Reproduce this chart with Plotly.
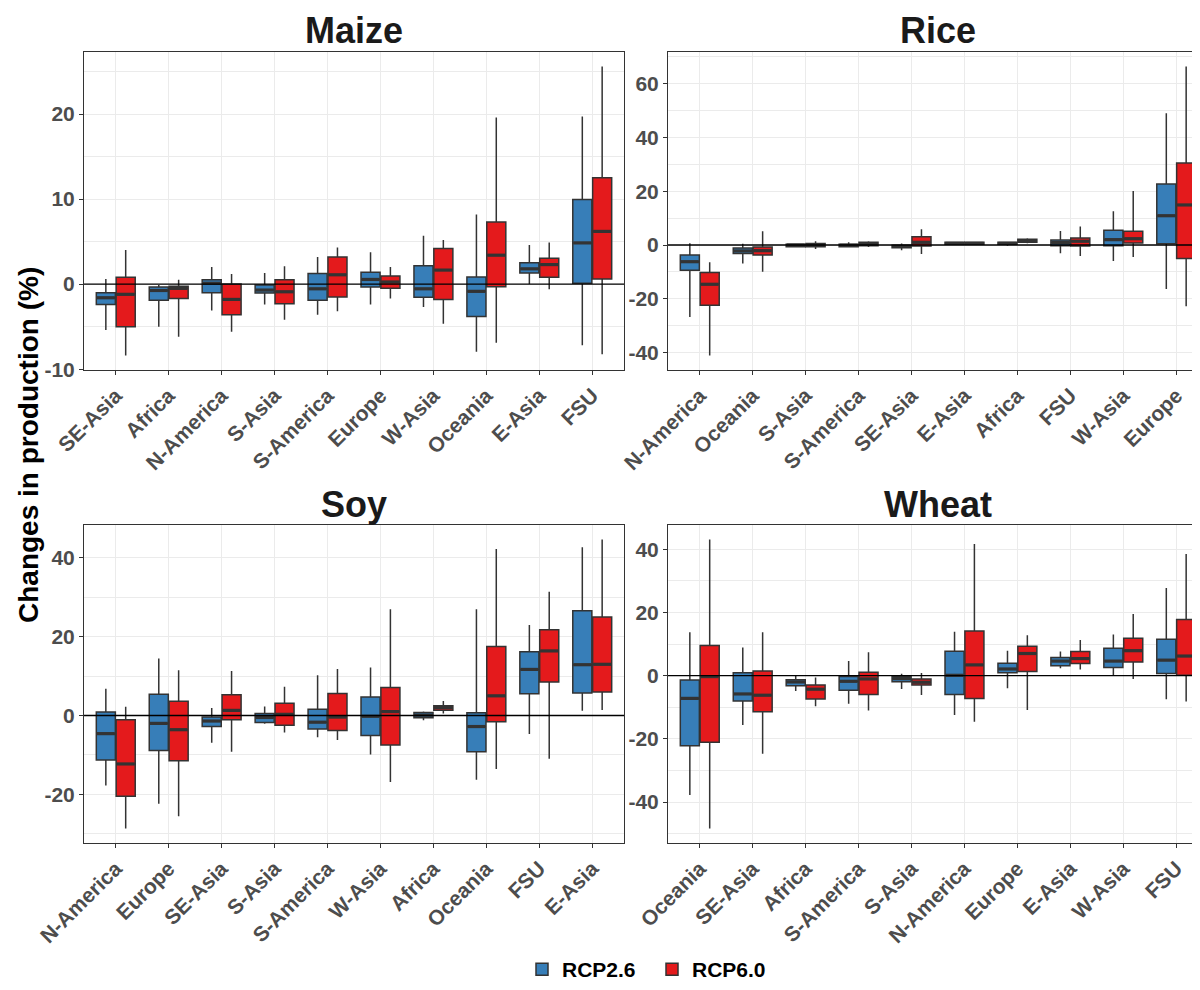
import plotly.graph_objects as go

# ---------------- data ----------------
SCENARIOS = ["RCP2.6", "RCP6.0"]

maize_regions = ["SE-Asia", "Africa", "N-America", "S-Asia", "S-America",
                 "Europe", "W-Asia", "Oceania", "E-Asia", "FSU"]
maize_rcp26 = {
    "low":  [-5.4, -5.0, -3.1, -2.4, -3.6, -2.4, -2.7, -7.95, 0.0, -7.2],
    "q1":   [-2.4, -1.9, -1.0, -1.05, -1.9, -0.35, -1.55, -3.8, 1.3, 0.1],
    "med":  [-1.6, -0.75, 0.1, -0.7, -0.55, 0.55, -0.55, -0.85, 1.8, 4.85],
    "q3":   [-1.0, -0.35, 0.5, -0.1, 1.25, 1.4, 2.15, 0.85, 2.5, 9.95],
    "high": [0.6, -0.1, 2.0, 1.3, 3.2, 3.75, 5.7, 8.2, 4.6, 19.7],
}
maize_rcp60 = {
    "low":  [-8.4, -6.2, -5.6, -4.2, -3.2, -1.7, -4.65, -6.9, -0.6, -8.25],
    "q1":   [-5.0, -1.7, -3.6, -2.3, -1.5, -0.5, -1.8, -0.3, 0.8, 0.6],
    "med":  [-1.2, -0.5, -1.8, -0.9, 1.1, 0.25, 1.65, 3.4, 2.3, 6.2],
    "q3":   [0.8, -0.25, 0.0, 0.5, 3.2, 0.95, 4.2, 7.3, 3.05, 12.5],
    "high": [4.0, 0.5, 1.2, 2.1, 4.3, 2.0, 5.2, 19.6, 4.9, 25.6],
}

rice_regions = ["N-America", "Oceania", "S-Asia", "S-America", "SE-Asia",
                "E-Asia", "Africa", "FSU", "W-Asia", "Europe"]
rice_rcp26 = {
    "low":  [-26.8, -6.9, -0.75, -0.9, -1.9, 0.1, -0.25, -3.1, -5.9, -16.4],
    "q1":   [-9.4, -3.2, -0.6, -0.6, -1.0, 0.25, 0.25, -0.25, -0.25, 0.5],
    "med":  [-6.2, -2.2, 0.0, -0.1, -0.5, 0.6, 0.6, 0.9, 2.0, 10.9],
    "q3":   [-3.7, -1.1, 0.25, 0.25, -0.1, 1.0, 1.0, 1.9, 5.45, 22.7],
    "high": [0.7, 0.5, 0.4, 1.0, 0.6, 1.1, 1.2, 5.2, 12.6, 49.0],
}
rice_rcp60 = {
    "low":  [-41.1, -9.9, -1.5, -0.75, -3.3, 0.1, 0.7, -4.1, -4.5, -22.8],
    "q1":   [-22.4, -3.7, -0.6, -0.25, -0.4, 0.25, 1.0, -0.4, 0.75, -5.0],
    "med":  [-14.6, -2.1, 0.1, 0.5, 1.0, 0.6, 1.6, 1.4, 2.35, 14.9],
    "q3":   [-10.2, -0.7, 0.6, 1.0, 3.1, 1.0, 2.1, 2.6, 5.1, 30.5],
    "high": [-6.4, 5.1, 1.4, 1.4, 5.9, 1.1, 2.5, 6.9, 20.1, 66.4],
}

soy_regions = ["N-America", "Europe", "SE-Asia", "S-Asia", "S-America",
               "W-Asia", "Africa", "Oceania", "FSU", "E-Asia"]
soy_rcp26 = {
    "low":  [-17.8, -22.4, -6.9, -2.1, -5.5, -9.9, -1.2, -16.3, -4.7, 1.2],
    "q1":   [-11.3, -8.9, -2.8, -1.8, -3.4, -5.1, -0.6, -9.2, 5.5, 5.7],
    "med":  [-4.6, -2.0, -1.4, -0.5, -1.7, -0.2, 0.1, -2.8, 11.7, 12.9],
    "q3":   [0.9, 5.4, -0.4, 0.5, 1.6, 4.7, 0.75, 0.7, 16.2, 26.6],
    "high": [6.8, 14.5, 1.9, 2.3, 10.2, 12.2, 1.0, 27.0, 23.0, 42.7],
}
soy_rcp60 = {
    "low":  [-28.7, -25.6, -9.2, -4.3, -6.2, -16.9, 0.5, -13.6, -11.0, 1.4],
    "q1":   [-20.5, -11.5, -1.1, -2.5, -3.8, -7.5, 1.35, -1.6, 8.5, 6.0],
    "med":  [-12.3, -3.6, 1.3, 0.3, -0.4, 1.0, 2.0, 5.0, 16.4, 13.0],
    "q3":   [-1.1, 3.6, 5.25, 3.1, 5.6, 7.1, 2.5, 17.5, 21.8, 25.0],
    "high": [2.2, 11.5, 11.3, 7.3, 11.8, 27.0, 3.7, 42.3, 31.4, 44.7],
}

wheat_regions = ["Oceania", "SE-Asia", "Africa", "S-America", "S-Asia",
                 "N-America", "Europe", "E-Asia", "W-Asia", "FSU"]
wheat_rcp26 = {
    "low":  [-37.8, -15.6, -4.9, -8.9, -4.2, -12.5, -4.0, 2.3, 0.0, -7.5],
    "q1":   [-22.2, -8.0, -3.2, -4.6, -1.9, -6.0, 0.95, 3.1, 2.6, 0.7],
    "med":  [-7.2, -5.8, -2.0, -1.8, -0.95, 0.1, 2.1, 4.6, 4.6, 4.9],
    "q3":   [-1.4, 0.95, -1.3, -0.3, -0.3, 7.7, 3.9, 5.7, 8.7, 11.5],
    "high": [13.7, 8.9, -0.1, 4.6, 0.6, 13.9, 7.9, 7.6, 13.0, 27.7],
}
wheat_rcp60 = {
    "low":  [-48.4, -24.7, -9.7, -11.0, -6.1, -14.6, -10.9, 1.9, -1.1, -8.2],
    "q1":   [-21.1, -11.4, -7.4, -6.0, -3.0, -7.2, 1.3, 3.8, 4.3, 0.1],
    "med":  [-0.3, -6.2, -4.3, -1.05, -2.1, 3.4, 7.0, 5.4, 7.9, 6.2],
    "q3":   [9.5, 1.5, -3.0, 1.05, -1.05, 14.1, 9.3, 7.6, 11.8, 17.8],
    "high": [43.1, 13.7, -0.6, 7.4, 0.85, 41.7, 12.8, 11.3, 19.5, 38.5],
}

maize_yticks = [-10, 0, 10, 20]
rice_yticks = [-40, -20, 0, 20, 40, 60]
soy_yticks = [-20, 0, 20, 40]
wheat_yticks = [-40, -20, 0, 20, 40]

# ---------------- style ----------------
PAGE_W, PAGE_H = 1200, 990
OFF = 8                      # default body margin of the html page
W, H = PAGE_W - OFF, PAGE_H - OFF
COLORS = {"RCP2.6": "#377EB8", "RCP6.0": "#E41A1C"}
DARK = "#333333"
GRID = "#EBEBEB"
TICKC = "#4D4D4D"
FONT = "Liberation Sans"
BOXW = 0.36
OFFS = {"RCP2.6": -0.1875, "RCP6.0": 0.1875}

def px_x(p):
    return (p - OFF) / W

def px_y(p):
    return 1 - (p - OFF) / H

# panel pixel boxes on the page: (left, right, top, bottom); right panels run past the page edge
panels = [
    dict(title="Maize", regions=maize_regions, data={"RCP2.6": maize_rcp26, "RCP6.0": maize_rcp60},
         yticks=maize_yticks, box=(84, 624, 52, 370)),
    dict(title="Rice", regions=rice_regions, data={"RCP2.6": rice_rcp26, "RCP6.0": rice_rcp60},
         yticks=rice_yticks, box=(668, 1208, 52, 370)),
    dict(title="Soy", regions=soy_regions, data={"RCP2.6": soy_rcp26, "RCP6.0": soy_rcp60},
         yticks=soy_yticks, box=(84, 624, 525, 843)),
    dict(title="Wheat", regions=wheat_regions, data={"RCP2.6": wheat_rcp26, "RCP6.0": wheat_rcp60},
         yticks=wheat_yticks, box=(668, 1208, 525, 843)),
]

fig = go.Figure()
layout = dict(
    width=W, height=H, margin=dict(l=0, r=0, t=0, b=0),
    paper_bgcolor="white", plot_bgcolor="white",
    font=dict(family=FONT, color="black"),
    showlegend=True,
    legend=dict(orientation="h", x=px_x(522), xanchor="left", y=0.0, yanchor="bottom",
                font=dict(size=21, family=FONT, weight="bold", color="black"),
                itemwidth=30, entrywidth=85, entrywidthmode="pixels",
                tracegroupgap=0, borderwidth=0, bgcolor="rgba(0,0,0,0)"),
)
shapes = []
annotations = []

for k, p in enumerate(panels):
    sfx = "" if k == 0 else str(k + 1)
    xa, ya = "x" + sfx, "y" + sfx
    left, right, top, bottom = p["box"]
    n = len(p["regions"])
    xs = list(range(n))
    vis_right = min(right, PAGE_W)
    unit = (right - left) / (n - 1 + 1.2)
    x_max = -0.6 + (vis_right - left) / unit

    allv = []
    for s in SCENARIOS:
        allv += p["data"][s]["low"] + p["data"][s]["high"]
    lo, hi = min(allv), max(allv)
    span = hi - lo
    yr = [lo - 0.05 * span, hi + 0.05 * span]

    for s in SCENARIOS:
        d = p["data"][s]
        pos = [i + OFFS[s] for i in xs]
        fig.add_trace(go.Box(
            x=pos, q1=d["q1"], median=d["med"], q3=d["q3"],
            lowerfence=d["low"], upperfence=d["high"],
            width=BOXW, whiskerwidth=0, boxpoints=False,
            fillcolor=COLORS[s], line=dict(color=DARK, width=1.5),
            name=s, legendgroup=s, showlegend=(k == 0),
            hoverinfo="skip", xaxis=xa, yaxis=ya,
        ))
        mx, my = [], []
        for xp, m in zip(pos, d["med"]):
            mx += [xp - BOXW / 2 + 0.01, xp + BOXW / 2 - 0.01, None]
            my += [m, m, None]
        fig.add_trace(go.Scatter(
            x=mx, y=my, mode="lines", line=dict(color=DARK, width=3.2),
            showlegend=False, hoverinfo="skip", xaxis=xa, yaxis=ya,
        ))

    step = p["yticks"][1] - p["yticks"][0]
    minors = []
    v = p["yticks"][0] - step / 2
    while v <= yr[1]:
        if v >= yr[0]:
            minors.append(v)
        v += step

    layout["xaxis" + sfx] = dict(
        domain=[px_x(left), px_x(vis_right)], anchor=ya,
        range=[-0.6, x_max], tickvals=xs, ticktext=p["regions"], tickangle=-45,
        tickfont=dict(size=21, family=FONT, weight="bold", color=TICKC),
        ticks="outside", ticklen=4, tickcolor=DARK, tickwidth=1,
        showgrid=True, gridcolor=GRID, gridwidth=1.1, zeroline=False,
        showline=True, linecolor=DARK, linewidth=1, mirror=True,
        automargin=False, fixedrange=True,
    )
    layout["yaxis" + sfx] = dict(
        domain=[px_y(bottom), px_y(top)], anchor=xa,
        range=yr, tickvals=p["yticks"], ticktext=[str(t) for t in p["yticks"]],
        tickfont=dict(size=21, family=FONT, weight="bold", color=TICKC),
        ticks="outside", ticklen=4, tickcolor=DARK, tickwidth=1,
        showgrid=True, gridcolor=GRID, gridwidth=1.1, zeroline=False,
        minor=dict(tickvals=minors, showgrid=True, gridcolor=GRID, gridwidth=0.55, ticks=""),
        showline=True, linecolor=DARK, linewidth=1, mirror=(right <= PAGE_W),
        automargin=False, fixedrange=True,
    )
    shapes.append(dict(type="line", xref=xa + " domain", yref=ya, x0=0, x1=1, y0=0, y1=0,
                       line=dict(color="black", width=1.3), layer="above"))
    annotations.append(dict(text=p["title"], xref="paper", yref="paper",
                            x=px_x((left + right) / 2), y=px_y(top - 21), xanchor="center", yanchor="middle",
                            showarrow=False, font=dict(size=36, family=FONT, weight="bold", color="#1A1A1A")))

annotations.append(dict(text="Changes in production (%)", xref="paper", yref="paper",
                        x=px_x(28), y=px_y(445), xanchor="center", yanchor="middle", textangle=-90,
                        showarrow=False, font=dict(size=28, family=FONT, weight="bold", color="black")))

layout["shapes"] = shapes
layout["annotations"] = annotations
fig.update_layout(**layout)
fig.write_html("out.html")
